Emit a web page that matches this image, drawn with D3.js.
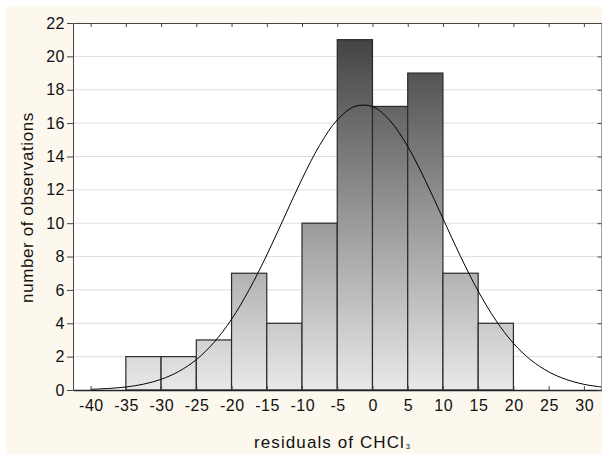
<!DOCTYPE html>
<html>
<head>
<meta charset="utf-8">
<script src="https://cdn.jsdelivr.net/npm/d3@7"></script>
<style>
  body { margin: 0; background: #ffffff; }
  text { font-family: "Liberation Sans", Arial, sans-serif; fill: #111; }
</style>
</head>
<body>
<script>
// histogram bins (lower edge, width 5) and counts
const binStarts = [-40, -35, -30, -25, -20, -15, -10, -5, 0, 5, 10, 15];
const binCounts = [0, 2, 2, 3, 7, 4, 10, 21, 17, 19, 7, 4];
const binWidth = 5;

// fitted normal curve
const curveX = [-40, -37.5, -35, -32.5, -30, -27.5, -25, -22.5, -20, -17.5, -15, -12.5, -10, -7.5, -5, -2.5,
                0, 2.5, 5, 7.5, 10, 12.5, 15, 17.5, 20, 22.5, 25, 27.5, 30, 32.5];
const curveY = [0.04, 0.09, 0.18, 0.35, 0.64, 1.11, 1.82, 2.85, 4.24, 6.01, 8.09, 10.37, 12.65, 14.67, 16.19, 17.0,
                16.99, 16.14, 14.6, 12.56, 10.28, 8.0, 5.93, 4.18, 2.8, 1.79, 1.09, 0.63, 0.34, 0.18];

const xTicks = [-40, -35, -30, -25, -20, -15, -10, -5, 0, 5, 10, 15, 20, 25, 30];
const yTicks = [0, 2, 4, 6, 8, 10, 12, 14, 16, 18, 20, 22];

const W = 602, H = 456;
const plot = { left: 73, right: 601.5, top: 23, bottom: 390 };

const svg = d3.select('body').append('svg')
    .attr('width', W)
    .attr('height', H);

// cream panel
svg.append('rect')
    .attr('x', 6).attr('y', 6)
    .attr('width', W - 6).attr('height', H - 8)
    .attr('fill', '#fcf8ee');

const x = d3.scaleLinear().domain([-42.5, 32.5]).range([plot.left, plot.right]);
const y = d3.scaleLinear().domain([0, 22]).range([plot.bottom, plot.top]);

// plot area
svg.append('rect')
    .attr('x', plot.left).attr('y', plot.top)
    .attr('width', plot.right - plot.left).attr('height', plot.bottom - plot.top)
    .attr('fill', '#ffffff');

// gradient for the bars, tied to the plot height
const grad = svg.append('defs').append('linearGradient')
    .attr('id', 'barGrad')
    .attr('gradientUnits', 'userSpaceOnUse')
    .attr('x1', 0).attr('x2', 0)
    .attr('y1', y(0)).attr('y2', y(22));
grad.append('stop').attr('offset', '0%').attr('stop-color', '#e9e9e9');
grad.append('stop').attr('offset', '100%').attr('stop-color', '#3c3c3c');

// grid lines
svg.append('g')
    .selectAll('line')
    .data(yTicks.filter(d => d > 0 && d < 22))
    .enter().append('line')
    .attr('x1', plot.left).attr('x2', plot.right)
    .attr('y1', d => y(d)).attr('y2', d => y(d))
    .attr('stroke', '#dedede')
    .attr('stroke-width', 1);

// bars
svg.append('g')
    .selectAll('rect')
    .data(binStarts)
    .enter().append('rect')
    .attr('x', d => x(d))
    .attr('y', (d, i) => y(binCounts[i]))
    .attr('width', d => x(d + binWidth) - x(d))
    .attr('height', (d, i) => y(0) - y(binCounts[i]))
    .attr('fill', 'url(#barGrad)')
    .attr('stroke', '#2a2a2a')
    .attr('stroke-width', 1.2);

// normal curve
const line = d3.line()
    .x((d, i) => x(curveX[i]))
    .y(d => y(d))
    .curve(d3.curveCatmullRom);
svg.append('path')
    .datum(curveY)
    .attr('d', line)
    .attr('fill', 'none')
    .attr('stroke', '#000')
    .attr('stroke-width', 1);

// axes
const axisStyle = g => {
    g.select('.domain').attr('stroke', '#444');
    g.selectAll('.tick line').attr('stroke', '#444');
    g.selectAll('.tick text')
        .style('font-size', '16px')
        .style('letter-spacing', '0.5px')
        .attr('fill', '#111');
};
const plain = d => String(d); // plain hyphen minus, like the original

svg.append('g')
    .attr('transform', `translate(0,${plot.bottom})`)
    .call(d3.axisBottom(x).tickValues(xTicks).tickFormat(plain).tickSize(-4).tickSizeOuter(0).tickPadding(10))
    .call(axisStyle)
    .call(g => g.selectAll('.tick text').attr('dx', '0.25px'))
    .call(g => g.select('.domain').attr('stroke-width', 1.5).attr('stroke', '#222'));

svg.append('g')
    .attr('transform', `translate(0,${plot.top})`)
    .call(d3.axisTop(x).tickValues(xTicks).tickSize(-4).tickSizeOuter(0).tickFormat(''))
    .call(axisStyle);

svg.append('g')
    .attr('transform', `translate(${plot.left},0)`)
    .call(d3.axisLeft(y).tickValues(yTicks).tickFormat(plain).tickSize(6).tickSizeOuter(0).tickPadding(2))
    .call(axisStyle);

svg.append('g')
    .attr('transform', `translate(${plot.right},0)`)
    .call(d3.axisRight(y).tickValues(yTicks).tickSize(-4).tickSizeOuter(0).tickFormat(''))
    .call(axisStyle);

// axis titles
svg.append('text')
    .attr('transform', `translate(33,${(plot.top + plot.bottom) / 2 + 1}) rotate(-90)`)
    .attr('text-anchor', 'middle')
    .style('font-size', '17px')
    .style('letter-spacing', '0.6px')
    .text('number of observations');

const xt = svg.append('text')
    .attr('x', 254)
    .attr('y', 448)
    .style('font-size', '17px')
    .style('letter-spacing', '1.1px');
xt.append('tspan').text('residuals of CHCl');
xt.append('tspan')
    .attr('dx', 1)
    .attr('dy', 1)
    .style('font-size', '7px')
    .style('letter-spacing', '0px')
    .text('3');
</script>
</body>
</html>
